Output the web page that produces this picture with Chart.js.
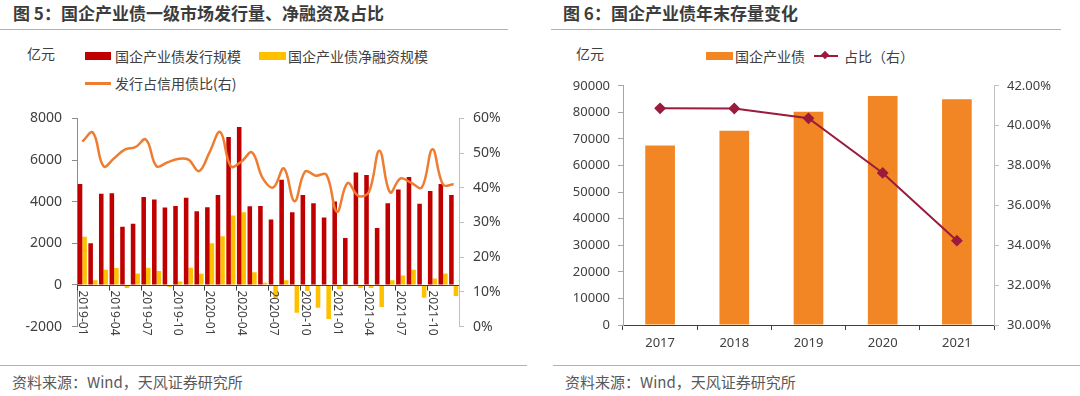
<!DOCTYPE html>
<html lang="zh-CN">
<head>
<meta charset="utf-8">
<title>国企产业债</title>
<script src="https://cdn.jsdelivr.net/npm/chart.js@4.4.1/dist/chart.umd.min.js"></script>
<style>
  html, body { margin: 0; padding: 0; background: #fff; }
  body {
    width: 1080px; height: 396px; position: relative; overflow: hidden;
    font-family: "Noto Sans CJK SC", "Noto Sans", sans-serif; color: #404040;
  }
  .abs { position: absolute; white-space: nowrap; }
  .title { font-size: 17px; font-weight: bold; color: #3c3c3c; line-height: 26px; top: 0; }
  .rule { position: absolute; height: 1px; background: #f3a15f; }
  .unit, .lg { font-size: 14px; line-height: 18px; }
  .src { font-size: 15px; color: #595959; line-height: 20px; top: 372px; }
  .box { position: absolute; }
  canvas { position: absolute; }
</style>
</head>
<body>

<div class="abs title" style="left:13px;">图 5：国企产业债一级市场发行量、净融资及占比</div>
<div class="abs title" style="left:563px;">图 6：国企产业债年末存量变化</div>
<div class="rule" style="left:0; top:29px; width:508px;"></div>
<div class="rule" style="left:551px; top:29px; width:510px;"></div>

<!-- left legend -->
<div class="abs unit" style="left:27px; top:44px;">亿元</div>
<div class="box" style="left:85px; top:52px; width:26px; height:8px; background:#c00000;"></div>
<div class="abs lg" style="left:115px; top:47px;">国企产业债发行规模</div>
<div class="box" style="left:259px; top:52px; width:27px; height:8px; background:#ffc000;"></div>
<div class="abs lg" style="left:288px; top:47px;">国企产业债净融资规模</div>
<div class="box" style="left:85px; top:82px; width:26px; height:2.5px; background:#ee7d31;"></div>
<div class="abs lg" style="left:115px; top:74px;">发行占信用债比(右)</div>

<!-- right legend -->
<div class="abs unit" style="left:576px; top:44px;">亿元</div>
<div class="box" style="left:706px; top:52px; width:27px; height:8px; background:#f28524;"></div>
<div class="abs lg" style="left:735px; top:47px;">国企产业债</div>
<div class="box" style="left:814px; top:55px; width:24px; height:2px; background:#9b1b3d;"></div>
<div class="box" style="left:822px; top:52px; width:6px; height:6px; background:#9b1b3d; transform:rotate(45deg);"></div>
<div class="abs lg" style="left:844px; top:47px;">占比（右）</div>

<canvas id="issueChart" width="520" height="245" style="left:0; top:100px;"></canvas>
<canvas id="stockChart" width="520" height="285" style="left:540px; top:70px;"></canvas>

<div class="rule" style="left:0; top:365px; width:527px;"></div>
<div class="rule" style="left:553px; top:365px; width:527px;"></div>
<div class="abs src" style="left:12px;">资料来源：Wind，天风证券研究所</div>
<div class="abs src" style="left:565px;">资料来源：Wind，天风证券研究所</div>

<script>
/* ---------- data: figure 5 ---------- */
const months = [
  '2019-01','2019-02','2019-03','2019-04','2019-05','2019-06',
  '2019-07','2019-08','2019-09','2019-10','2019-11','2019-12',
  '2020-01','2020-02','2020-03','2020-04','2020-05','2020-06',
  '2020-07','2020-08','2020-09','2020-10','2020-11','2020-12',
  '2021-01','2021-02','2021-03','2021-04','2021-05','2021-06',
  '2021-07','2021-08','2021-09','2021-10','2021-11','2021-12'
];
// 发行规模 (亿元)
const issueVol = [
  4850, 2000, 4380, 4400, 2790, 2940, 4220, 4100, 3720, 3790, 4190, 3540,
  3730, 4320, 7110, 7590, 3780, 3790, 3140, 5050, 3490, 4320, 3930, 3240,
  4010, 2260, 5400, 5280, 2740, 3930, 4580, 5190, 3900, 4510, 4850, 4320
];
// 净融资规模 (亿元)
const netFinance = [
  2310, 230, 735, 810, -150, 550, 825, 675, -100, 170, 825, 535,
  2005, 2340, 3335, 3490, 610, 110, -610, 230, -1330, -290, -1100, -1640,
  -210, -60, -150, -150, -1060, 230, 460, 735, -610, 305, 550, -530
];
// 发行占信用债比 (%)
const issueShare = [
  53.3, 55.9, 46.2, 48.5, 51.0, 51.7, 53.9, 46.2, 47.3, 48.3, 48.1, 44.8,
  50.3, 56.1, 46.2, 47.6, 50.2, 42.8, 40.1, 45.6, 36.1, 44.7, 43.5, 43.8,
  33.1, 41.4, 37.7, 38.7, 50.7, 38.7, 42.7, 41.4, 40.1, 51.1, 40.9, 41.0
];

/* ---------- data: figure 6 ---------- */
const years = ['2017', '2018', '2019', '2020', '2021'];
const stockVol = [67500, 73100, 80200, 86200, 84900];     // 亿元
const stockShare = [40.87, 40.86, 40.37, 37.63, 34.23];   // %

const FONT = '"Noto Sans", "Noto Sans CJK SC", sans-serif';
const TXT = '#404040';

// fixed axis widths so the plot areas line up with the reference
const fixWidth = w => scale => { scale.width = w; };
const fixHeight = h => scale => { scale.height = h; };
const plain = v => String(v);

/* month axis sits on the zero line, labels rotated to read downward */
const monthAxis = {
  id: 'monthAxis',
  afterDatasetsDraw(chart) {
    const { ctx, chartArea, scales: { x, y } } = chart;
    const y0 = Math.round(y.getPixelForValue(0)) + 0.5;
    const step = x.getPixelForValue(1) - x.getPixelForValue(0);
    ctx.save();
    ctx.strokeStyle = TXT;
    ctx.lineWidth = 1;
    ctx.beginPath();
    ctx.moveTo(chartArea.left, y0);
    ctx.lineTo(chartArea.right, y0);
    for (let i = 0; i < months.length; i += 3) {
      const bx = Math.round(x.getPixelForValue(i) - step / 2) + 0.5;
      ctx.moveTo(bx, y0);
      ctx.lineTo(bx, y0 + 5);
    }
    ctx.stroke();
    ctx.fillStyle = TXT;
    ctx.font = '12px ' + FONT;
    ctx.textAlign = 'left';
    ctx.textBaseline = 'middle';
    for (let i = 0; i < months.length; i += 3) {
      ctx.save();
      ctx.translate(x.getPixelForValue(i), y0 + 5);
      ctx.rotate(Math.PI / 2);
      ctx.fillText(months[i], 0, 0);
      ctx.restore();
    }
    ctx.restore();
  }
};

Chart.defaults.font.family = FONT;
Chart.defaults.color = TXT;

/* ================================================
   FIGURE 5
================================================ */
new Chart(document.getElementById('issueChart'), {
  type: 'bar',
  data: {
    labels: months,
    datasets: [
      {
        type: 'line',
        label: '发行占信用债比(右)',
        data: issueShare,
        yAxisID: 'y1',
        borderColor: '#ee7d31',
        borderWidth: 2.5,
        pointRadius: 0,
        tension: 0.4,
        order: 0,
      },
      {
        label: '国企产业债发行规模',
        data: issueVol,
        backgroundColor: '#c00000',
        categoryPercentage: 0.86,
        barPercentage: 1,
        order: 1,
      },
      {
        label: '国企产业债净融资规模',
        data: netFinance,
        backgroundColor: '#ffc000',
        categoryPercentage: 0.86,
        barPercentage: 1,
        order: 1,
      },
    ],
  },
  options: {
    responsive: false,
    animation: false,
    layout: { padding: { top: 12, bottom: 16, left: 0, right: 0 } },
    plugins: { legend: { display: false }, tooltip: { enabled: false } },
    scales: {
      x: { display: false },
      y: {
        position: 'left',
        min: -2000, max: 8000,
        ticks: { stepSize: 2000, padding: 10, color: TXT, font: { size: 14 }, callback: plain },
        grid: { drawOnChartArea: false, tickLength: 5, color: '#8c8c8c' },
        border: { color: '#8c8c8c' },
        afterFit: fixWidth(77),
      },
      y1: {
        position: 'right',
        min: 0, max: 60,
        ticks: { stepSize: 10, padding: 9, color: TXT, font: { size: 14 }, callback: v => v + '%' },
        grid: { drawOnChartArea: false, tickLength: 5, color: '#bfbfbf' },
        border: { color: '#bfbfbf' },
        afterFit: fixWidth(61),
      },
    },
  },
  plugins: [monthAxis],
});

/* ================================================
   FIGURE 6
================================================ */
new Chart(document.getElementById('stockChart'), {
  type: 'bar',
  data: {
    labels: years,
    datasets: [
      {
        type: 'line',
        label: '占比（右）',
        data: stockShare,
        yAxisID: 'y1',
        borderColor: '#9b1b3d',
        backgroundColor: '#9b1b3d',
        borderWidth: 2,
        pointStyle: 'rectRot',
        pointRadius: 4.5,
        tension: 0,
        order: 0,
      },
      {
        label: '国企产业债',
        data: stockVol,
        backgroundColor: '#f28524',
        categoryPercentage: 1,
        barPercentage: 0.4,
        order: 1,
      },
    ],
  },
  options: {
    responsive: false,
    animation: false,
    layout: { padding: { top: 14, bottom: 0, left: 0, right: 0 } },
    plugins: { legend: { display: false }, tooltip: { enabled: false } },
    scales: {
      x: {
        ticks: { padding: 5, color: TXT, font: { size: 13 } },
        grid: { drawOnChartArea: false, offset: true, tickLength: 5, color: TXT },
        border: { color: TXT },
        afterFit: fixHeight(30),
      },
      y: {
        position: 'left',
        min: 0, max: 90000,
        ticks: { stepSize: 10000, padding: 8, color: TXT, font: { size: 13 }, callback: plain },
        grid: { drawOnChartArea: false, tickLength: 5, color: '#a6a6a6' },
        border: { color: '#a6a6a6' },
        afterFit: fixWidth(83),
      },
      y1: {
        position: 'right',
        min: 30, max: 42,
        ticks: { stepSize: 2, padding: 8, color: TXT, font: { size: 13 }, callback: v => v.toFixed(2) + '%' },
        grid: { drawOnChartArea: false, tickLength: 5, color: '#bfbfbf' },
        border: { color: '#bfbfbf' },
        afterFit: fixWidth(66),
      },
    },
  },
});
</script>
</body>
</html>
